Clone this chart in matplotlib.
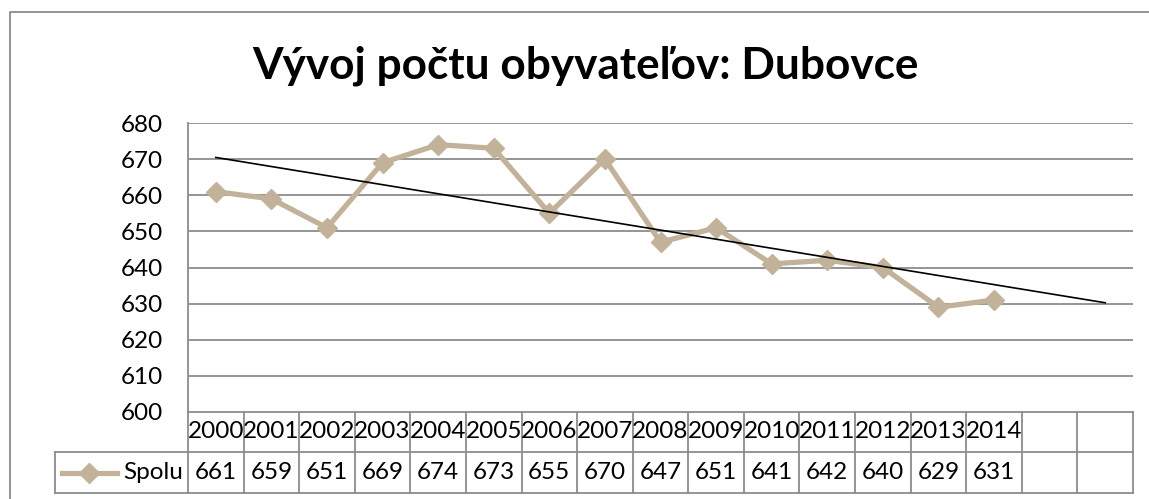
#!/usr/bin/env python3
"""Population trend chart for Dubovce with an Excel-style data table."""

import numpy as np
import matplotlib.pyplot as plt
from matplotlib.lines import Line2D
from matplotlib.transforms import blended_transform_factory

YEARS = ['2000', '2001', '2002', '2003', '2004', '2005', '2006', '2007',
         '2008', '2009', '2010', '2011', '2012', '2013', '2014']
VALUES = [661, 659, 651, 669, 674, 673, 655, 670, 647, 651, 641, 642, 640, 629, 631]
SERIES_NAME = 'Spolu'
TITLE = 'Vývoj počtu obyvateľov: Dubovce'
FORECAST_PERIODS = 2
Y_TICKS = [600, 610, 620, 630, 640, 650, 660, 670, 680]

W, H = 1149, 499
LINE_COLOR = '#C2B299'
GRID_COLOR = '#8C8C8C'
FONT = ['Lato', 'DejaVu Sans']
FS = 17.5


def fx(x):
    return x / W


def fy(y):
    return 1 - y / H


def main():
    plt.rcParams['font.family'] = FONT
    fig = plt.figure(figsize=(W / 100, H / 100), dpi=100)

    # outer chart frame (runs off the right and bottom edges)
    fig.add_artist(Line2D([fx(10), fx(10), 1.02], [-0.02, fy(12), fy(12)],
                          transform=fig.transFigure, color='#8C8C8C', lw=1.3))

    left, right, top, bottom = 188, 1133, 123, 412
    ax = fig.add_axes([fx(left), fy(bottom), fx(right) - fx(left), fy(top) - fy(bottom)])

    n = len(YEARS) + FORECAST_PERIODS
    x = np.arange(len(VALUES))
    ax.set_xlim(-0.5, n - 0.5)
    ax.set_ylim(Y_TICKS[0], Y_TICKS[-1])
    ax.set_yticks(Y_TICKS)
    ax.set_xticks([])
    ax.tick_params(axis='y', length=0, pad=18, labelsize=FS)
    for s in ['top', 'right', 'bottom']:
        ax.spines[s].set_visible(False)
    ax.spines['left'].set_color(GRID_COLOR)
    ax.spines['left'].set_linewidth(1.3)
    for t in Y_TICKS[1:]:
        ax.axhline(t, color=GRID_COLOR, lw=1.3, zorder=1)

    ax.plot(x, VALUES, color=LINE_COLOR, lw=3.8, marker='D', markersize=10.5,
            zorder=3, clip_on=False)

    # linear trend, extended forward
    slope, icpt = np.polyfit(x, VALUES, 1)
    xt = np.array([0, n - 1])
    ax.plot(xt, slope * xt + icpt, color='black', lw=1.2, zorder=4)

    ax.text(fx(585), fy(66), TITLE, transform=fig.transFigure, ha='center',
            va='center', fontsize=31.8, fontweight='bold')

    # data table under the plot
    tr = blended_transform_factory(ax.transData, fig.transFigure)
    y0, y1, y2 = fy(412), fy(452), fy(493)
    kw = dict(color=GRID_COLOR, lw=1.3, clip_on=False)
    for i in range(n + 1):
        fig.add_artist(Line2D([i - 0.5, i - 0.5], [y0, y2], transform=tr, **kw))
    fig.add_artist(Line2D([-0.5, n - 0.5], [y0, y0], transform=tr, **kw))
    cell_left = ax.transData.transform((-0.5, 0))[0] / fig.bbox.width
    x_left = fx(55)
    for yy in (y1, y2):
        fig.add_artist(Line2D([x_left, cell_left], [yy, yy], transform=fig.transFigure, **kw))
        fig.add_artist(Line2D([-0.5, n - 0.5], [yy, yy], transform=tr, **kw))
    fig.add_artist(Line2D([x_left, x_left], [y1, y2], transform=fig.transFigure, **kw))

    for i, (yr, v) in enumerate(zip(YEARS, VALUES)):
        fig.text(i, (y0 + y1) / 2, yr, transform=tr, ha='center', va='center', fontsize=FS)
        fig.text(i, (y1 + y2) / 2, str(v), transform=tr, ha='center', va='center', fontsize=FS)

    ym = (y1 + y2) / 2
    fig.add_artist(Line2D([fx(62), fx(117)], [ym, ym], transform=fig.transFigure,
                          color=LINE_COLOR, lw=3.8))
    fig.add_artist(Line2D([fx(89)], [ym], transform=fig.transFigure, color=LINE_COLOR,
                          marker='D', markersize=10.5, lw=0))
    fig.text(fx(183), ym, SERIES_NAME, ha='right', va='center', fontsize=FS)

    fig.savefig('out.png', dpi=100)
    plt.close(fig)


if __name__ == '__main__':
    main()
